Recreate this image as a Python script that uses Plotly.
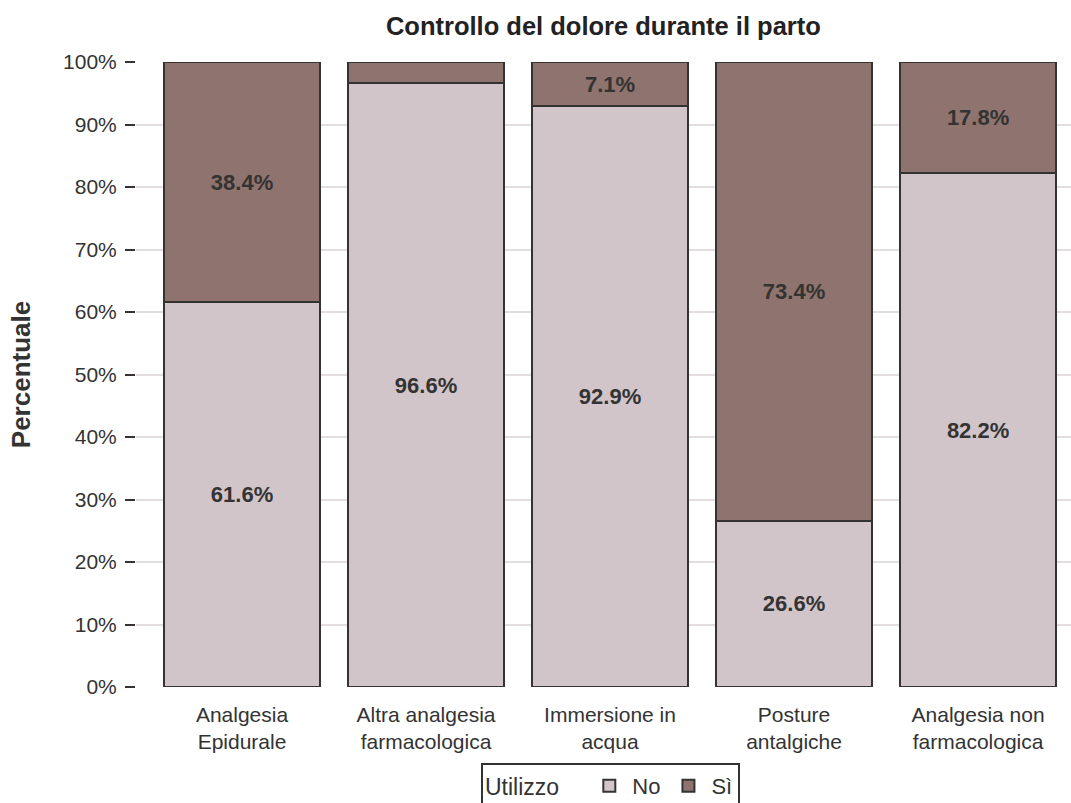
import plotly.graph_objects as go

categories = ["Analgesia<br>Epidurale", "Altra analgesia<br>farmacologica",
              "Immersione in<br>acqua", "Posture<br>antalgiche",
              "Analgesia non<br>farmacologica"]
no_values = [61.6, 96.6, 92.9, 26.6, 82.2]
si_values = [38.4, 3.4, 7.1, 73.4, 17.8]
y_ticks = [0, 10, 20, 30, 40, 50, 60, 70, 80, 90, 100]

MIN_LABEL = 5  # segments thinner than this stay unlabelled


def labels(vals):
    return [f"{v:.1f}%" if v >= MIN_LABEL else "" for v in vals]


fig = go.Figure()
for name, vals, color in [("No", no_values, "#d1c5c9"), ("Sì", si_values, "#8f736e")]:
    fig.add_trace(go.Bar(
        x=categories, y=vals, name=name,
        marker=dict(color=color, line=dict(color="#333333", width=2)),
        text=labels(vals), textposition="inside", insidetextanchor="middle",
        textangle=0,
        textfont=dict(family="Liberation Sans, Arial", size=22, color="#333333",
                      weight="bold"),
        width=0.848,
    ))

fig.update_layout(
    barmode="stack",
    width=1071, height=803,
    margin=dict(l=136, r=0, t=62, b=116),
    paper_bgcolor="white", plot_bgcolor="white",
    font=dict(family="Liberation Sans, Arial", color="#333333", size=21),
    title=dict(text="<b>Controllo del dolore durante il parto</b>",
               x=0.5634, xanchor="center", yref="container", y=0.967,
               yanchor="middle", font=dict(size=25.5, color="#222222")),
    xaxis=dict(range=[-0.576, 4.505], showline=False, ticks="",
               tickfont=dict(size=21), showgrid=False, automargin=False,
               ticklabelstandoff=13),
    yaxis=dict(range=[0, 100], tickvals=y_ticks,
               ticktext=[f"{v}%" for v in y_ticks],
               ticks="outside", ticklen=10, tickwidth=2, tickcolor="#333333",
               showgrid=True, gridcolor="#e3dedd", gridwidth=2,
               zeroline=False, showline=False, automargin=False,
               tickfont=dict(size=21), ticklabelstandoff=4,
               title=dict(text="<b>Percentuale</b>", font=dict(size=26), standoff=24)),
    legend=dict(orientation="h", traceorder="normal",
                xref="paper", x=0.369, xanchor="left",
                yref="container", y=0.05, yanchor="top",
                bordercolor="#333333", borderwidth=2,
                title=dict(text="Utilizzo   ", font=dict(size=23)),
                font=dict(size=22), itemwidth=36),
    showlegend=True,
)

fig.write_html("out.html")
